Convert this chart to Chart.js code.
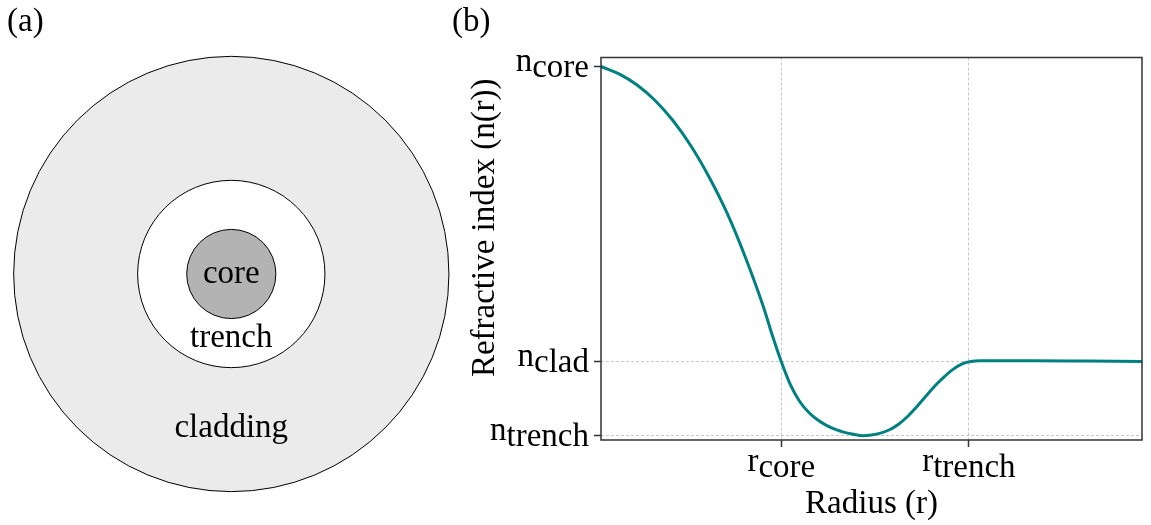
<!DOCTYPE html>
<html>
<head>
<meta charset="utf-8">
<title>Fibre cross-section and index profile</title>
<script src="https://cdn.jsdelivr.net/npm/chart.js@4.4.1/dist/chart.umd.min.js"></script>
<style>
    body { margin: 0; background: #fff; }
    #ctx_rings { position: absolute; left: 0; top: 0; }
    #ctx_profile { position: absolute; left: 440px; top: 0; }
</style>
</head>
<body>
<canvas id="ctx_rings" width="460" height="525"></canvas>
<canvas id="ctx_profile" width="711" height="525"></canvas>
<script>
// (a) cross-section, outer radius of each layer in units of the core radius
const layers = ['cladding', 'trench', 'core'];
const layerRadius = [4.88, 2.1, 1.0];
const layerLabelY = [-3.47, -1.45, 0];

// (b) refractive index profile n(r), normalised so n_trench = 0 and n_core = 1
const radius = [0, 0.1, 0.2, 0.3, 0.4, 0.5, 0.6, 0.7, 0.8, 0.9, 0.95, 1.0,
    1.05, 1.1, 1.15, 1.2, 1.25, 1.3, 1.35, 1.4, 1.45,
    1.5, 1.55, 1.6, 1.65, 1.7, 1.75, 1.8, 1.85, 1.9, 1.95, 2.0, 2.05, 2.1, 2.2, 2.4, 2.7, 3.0];
const index = [1.0, 0.980, 0.950, 0.908, 0.853, 0.784, 0.700, 0.602, 0.484, 0.350, 0.272, 0.200,
    0.138, 0.094, 0.064, 0.043, 0.028, 0.017, 0.009, 0.004, 0.0,
    0.002, 0.007, 0.016, 0.031, 0.052, 0.078, 0.106, 0.134, 0.158, 0.179, 0.194, 0.201, 0.203, 0.203, 0.203, 0.202, 0.201];

const rCore = 1.0;
const rTrench = 2.04;
const nCore = 1.0;
const nClad = 0.2;
const nTrench = 0.0;

const xTicks = [rCore, rTrench];
const xTickLabels = [['r', 'core'], ['r', 'trench']];
const yTicks = [nCore, nClad, nTrench];
const yTickLabels = [['n', 'core'], ['n', 'clad'], ['n', 'trench']];

const SERIF = "'Liberation Serif', 'Times New Roman', serif";
const FONT = { family: SERIF, size: 33, weight: 'normal', lineHeight: 1.2 };
Chart.defaults.color = '#000';
Chart.defaults.font.family = SERIF;

const ctx_rings = document.getElementById('ctx_rings');
const ctx_profile = document.getElementById('ctx_profile');

// names written inside the rings
const ringLabels = {
    id: 'ringLabels',
    afterDatasetsDraw(chart) {
        const { ctx, scales: { x, y } } = chart;
        ctx.save();
        ctx.font = '33px ' + SERIF;
        ctx.fillStyle = '#000';
        ctx.textAlign = 'center';
        ctx.textBaseline = 'middle';
        layers.forEach((name, i) => {
            ctx.fillText(name, x.getPixelForValue(0), y.getPixelForValue(layerLabelY[i]));
        });
        ctx.restore();
    }
};

new Chart(ctx_rings, {
    type: 'scatter',
    data: {
        datasets: [{
            label: 'layers',
            data: layerRadius.map(r => ({ x: 0, y: 0, r: r })),
            // radius taken through the x scale so the rings keep their proportions
            pointRadius: c => c.chart.scales.x.getPixelForValue(c.raw.r) - c.chart.scales.x.getPixelForValue(0),
            pointHoverRadius: c => c.chart.scales.x.getPixelForValue(c.raw.r) - c.chart.scales.x.getPixelForValue(0),
            pointBackgroundColor: ['#ebebeb', '#ffffff', '#b3b3b3'],
            pointBorderColor: '#000',
            pointBorderWidth: 1
        }]
    },
    options: {
        responsive: false,
        animation: false,
        events: [],
        layout: { padding: { left: 7 } },
        scales: {
            x: { display: false, min: -5.029, max: 5.128 },
            y: { display: false, min: -5.628, max: 5.188 }
        },
        plugins: {
            legend: { display: false },
            tooltip: { enabled: false },
            title: {
                display: true,
                text: '(a)',
                align: 'start',
                color: '#000',
                font: FONT,
                padding: { top: 3, bottom: 0 }
            }
        }
    },
    plugins: [ringLabels]
});

// frame, subscripted tick labels and y title
const profileFrame = {
    id: 'profileFrame',
    afterDraw(chart) {
        const { ctx, chartArea: a, scales: { x, y } } = chart;
        ctx.save();
        ctx.strokeStyle = '#333';
        ctx.lineWidth = 1.5;
        ctx.strokeRect(a.left, a.top, a.right - a.left, a.bottom - a.top);

        ctx.fillStyle = '#000';
        ctx.font = '33px ' + SERIF;
        ctx.textBaseline = 'alphabetic';

        yTicks.forEach((v, i) => {
            const [base, sub] = yTickLabels[i];
            const py = y.getPixelForValue(v);
            const right = a.left - 12;
            const wSub = ctx.measureText(sub).width;
            ctx.textAlign = 'right';
            ctx.fillText(sub, right, py + 10);
            ctx.fillText(base, right - wSub, py + 4);
        });

        xTicks.forEach((v, i) => {
            const [base, sub] = xTickLabels[i];
            const px = x.getPixelForValue(v);
            const wBase = ctx.measureText(base).width;
            const wSub = ctx.measureText(sub).width;
            const left = px - (wBase + wSub) / 2;
            ctx.textAlign = 'left';
            ctx.fillText(base, left, a.bottom + 31);
            ctx.fillText(sub, left + wBase, a.bottom + 37);
        });

        ctx.translate(a.left - 107, (a.top + a.bottom) / 2 - 21);
        ctx.rotate(-Math.PI / 2);
        ctx.textAlign = 'center';
        ctx.fillText('Refractive index (n(r))', 0, 0);
        ctx.restore();
    }
};

const gridColor = 'rgba(0, 0, 0, 0.22)';

new Chart(ctx_profile, {
    type: 'line',
    data: {
        datasets: [{
            label: 'n(r)',
            data: radius.map((r, i) => ({ x: r, y: index[i] })),
            borderColor: '#008080',
            borderWidth: 3,
            pointRadius: 0,
            cubicInterpolationMode: 'monotone',
            fill: false
        }]
    },
    options: {
        responsive: false,
        animation: false,
        events: [],
        layout: { padding: { left: 12, right: 9 } },
        scales: {
            x: {
                type: 'linear',
                min: 0,
                max: 3,
                afterBuildTicks: s => { s.ticks = xTicks.map(v => ({ value: v })); },
                afterFit: s => { s.height = 85; },
                ticks: { display: false },
                grid: {
                    color: gridColor,
                    lineWidth: 1,
                    tickLength: 7,
                    tickWidth: 1.5,
                    tickColor: '#333'
                },
                border: { display: false, dash: [3, 2] },
                title: {
                    display: true,
                    text: 'Radius (r)',
                    color: '#000',
                    font: FONT,
                    padding: { top: 0, bottom: 1 }
                }
            },
            y: {
                type: 'linear',
                min: -0.0117,
                max: 1.0244,
                afterBuildTicks: s => { s.ticks = yTicks.map(v => ({ value: v })); },
                afterFit: s => { s.width = 149; },
                ticks: { display: false },
                grid: {
                    color: c => (c.tick && c.tick.value === nCore) ? 'rgba(0, 0, 0, 0)' : gridColor,
                    lineWidth: 1,
                    tickLength: 7,
                    tickWidth: 1.5,
                    tickColor: '#333'
                },
                border: { display: false, dash: [3, 2] }
            }
        },
        plugins: {
            legend: { display: false },
            tooltip: { enabled: false },
            title: {
                display: true,
                text: '(b)',
                align: 'start',
                color: '#000',
                font: FONT,
                padding: { top: 3, bottom: 14.9 }
            }
        }
    },
    plugins: [profileFrame]
});
</script>
</body>
</html>
